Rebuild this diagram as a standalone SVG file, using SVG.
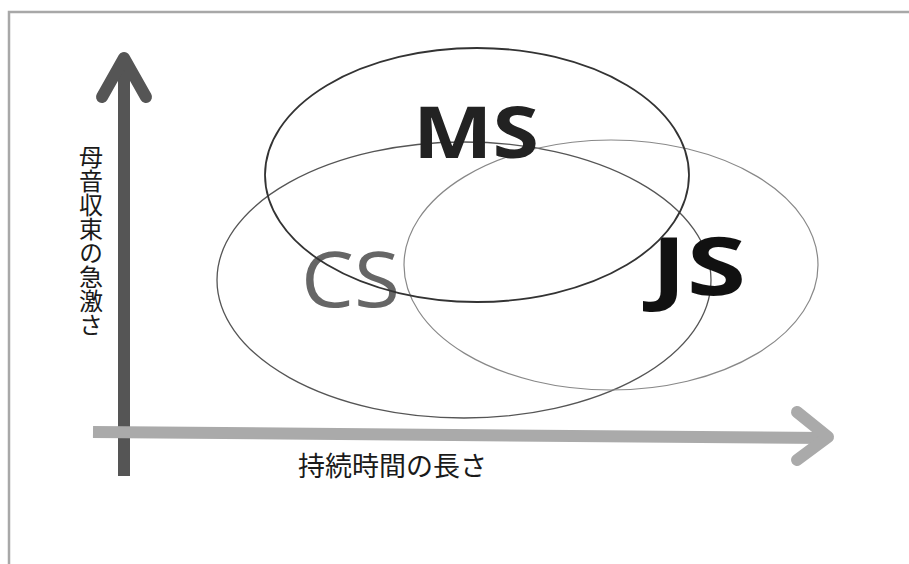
<svg xmlns="http://www.w3.org/2000/svg" width="909" height="564" viewBox="0 0 909 564">
<style>
.ell{fill:none}
.lbl{font-family:"Open Sans","Liberation Sans",sans-serif}
.jp{font-family:"Noto Sans CJK JP","Noto Sans",sans-serif;fill:#1a1a1a}
</style>
<rect x="0" y="0" width="909" height="564" fill="#fff"/>
<path d="M9,564 V12 H909" fill="none" stroke="#a8a8a8" stroke-width="2.5"/>
<g id="connectors">
  <g id="y-axis" stroke="#555" stroke-linecap="round" stroke-linejoin="round" fill="none">
    <line x1="124" y1="476" x2="124" y2="60" stroke-width="12" stroke-linecap="butt"/>
    <polyline points="102,97 124,58 146,97" stroke-width="12"/>
  </g>
  <g id="x-axis" stroke="#aaa" stroke-linecap="round" stroke-linejoin="round" fill="none">
    <line x1="93" y1="432" x2="826" y2="438" stroke-width="12" stroke-linecap="butt"/>
    <polyline points="797,412 828,437 797,460" stroke-width="12"/>
  </g>
</g>
<g id="node-CS">
  <ellipse class="ell" cx="464" cy="280" rx="247" ry="138" stroke="#555" stroke-width="1.3"/>
  <text class="lbl" x="301" y="307" font-size="76" fill="#666" textLength="99" lengthAdjust="spacingAndGlyphs">CS</text>
</g>
<g id="node-JS">
  <ellipse class="ell" cx="611" cy="265" rx="207" ry="125" stroke="#888" stroke-width="1.2"/>
  <text class="lbl" x="651" y="295" font-size="80" font-weight="bold" fill="#111" textLength="95" lengthAdjust="spacingAndGlyphs">JS</text>
</g>
<g id="node-MS">
  <ellipse class="ell" cx="477" cy="175" rx="212" ry="127" stroke="#333" stroke-width="1.8"/>
  <text class="lbl" x="413" y="158" font-size="71" font-weight="bold" fill="#222" textLength="126" lengthAdjust="spacingAndGlyphs">MS</text>
</g>
<g id="label-y">
  <text class="jp" x="91" y="145" font-size="24" style="writing-mode:vertical-rl">母音収束の急激さ</text>
</g>
<g id="label-x">
  <text class="jp" x="298" y="476" font-size="27">持続時間の長さ</text>
</g>
</svg>
